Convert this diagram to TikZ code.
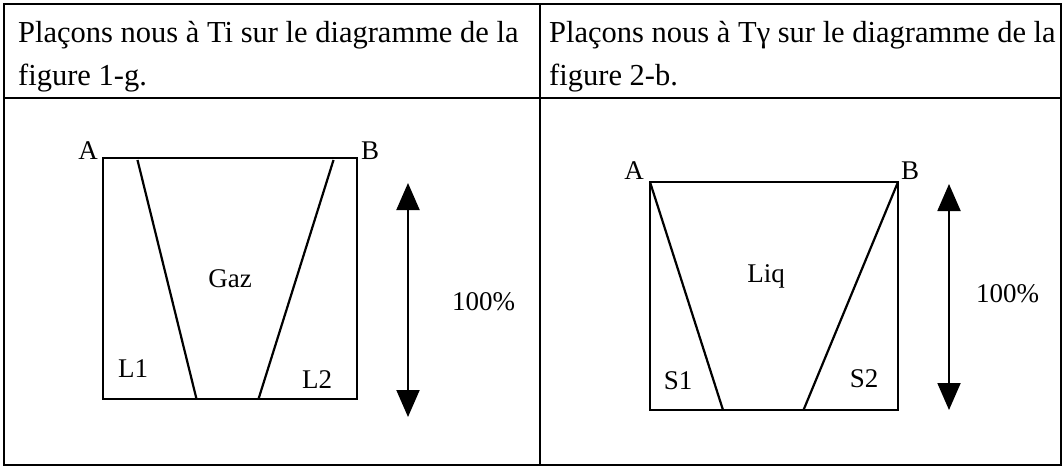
\documentclass[tikz,border=0pt]{standalone}
\usepackage{fontspec}
\setmainfont{Liberation Serif}
\usetikzlibrary{arrows.meta}
\begin{document}
\begin{tikzpicture}[x=1pt,y=-1pt,
  head/.style={font=\fontsize{30.5}{36}\selectfont,anchor=base west,inner sep=0pt},
  lbl/.style={font=\fontsize{27}{30}\selectfont,anchor=base,inner sep=0pt},
  outer/.style={line width=2.5pt},
  inner/.style={line width=1.6pt},
  diag/.style={line width=2.2pt},
  dbl/.style={line width=2pt,{Triangle[width=23pt,length=27pt]}-{Triangle[width=23pt,length=27pt]}}]
\useasboundingbox (0,0) rectangle (1064,468);
% table
\draw[outer] (4,4) rectangle (1061,465);
\draw[inner] (4,98) -- (1061,98);
\draw[inner] (540,4) -- (540,465);
% header texts
\node[head] (h1) at (18,43) {Plaçons nous à Ti sur le diagramme de la};
\node[head] (h2) at (18,86) {figure 1-g.};
\node[head] (h3) at (549,43) {Plaçons nous à Tγ sur le diagramme de la};
\node[head] (h4) at (549,86) {figure 2-b.};
% left diagram
\coordinate (lA) at (103,158);
\coordinate (lB) at (357,158);
\coordinate (lC) at (357,399);
\coordinate (lD) at (103,399);
\draw[diag] (lA) -- (lB) -- (lC) -- (lD) -- cycle;
\coordinate (l1t) at (137.5,160);
\coordinate (l1b) at (196.5,399);
\coordinate (l2t) at (333.5,160);
\coordinate (l2b) at (258.5,399);
\draw[diag] (l1t) -- (l1b);
\draw[diag] (l2t) -- (l2b);
\node[lbl] (la) at (88,159) {A};
\node[lbl] (lb) at (370,159) {B};
\node[lbl] (gaz) at (230,287) {Gaz};
\node[lbl] (L1) at (133,377) {L1};
\node[lbl] (L2) at (317,388) {L2};
\coordinate (lat) at (408,183);
\coordinate (lab) at (408,417);
\draw[dbl] (lat) -- (lab);
\node[lbl,anchor=base west] (lp) at (452,310) {100\%};
% right diagram
\coordinate (rA) at (650,182);
\coordinate (rB) at (898,182);
\coordinate (rC) at (898,410);
\coordinate (rD) at (650,410);
\draw[diag] (rA) -- (rB) -- (rC) -- (rD) -- cycle;
\coordinate (r1b) at (723,410);
\coordinate (r2b) at (803.5,410);
\draw[diag] (rA) -- (r1b);
\draw[diag] (rB) -- (r2b);
\node[lbl] (ra) at (634,179) {A};
\node[lbl] (rb) at (910,179) {B};
\node[lbl] (liq) at (766,282) {Liq};
\node[lbl] (S1) at (678,389) {S1};
\node[lbl] (S2) at (864,387) {S2};
\coordinate (rat) at (949,184);
\coordinate (rab) at (949,410);
\draw[dbl] (rat) -- (rab);
\node[lbl,anchor=base west] (rp) at (976,302) {100\%};
\end{tikzpicture}
\end{document}
